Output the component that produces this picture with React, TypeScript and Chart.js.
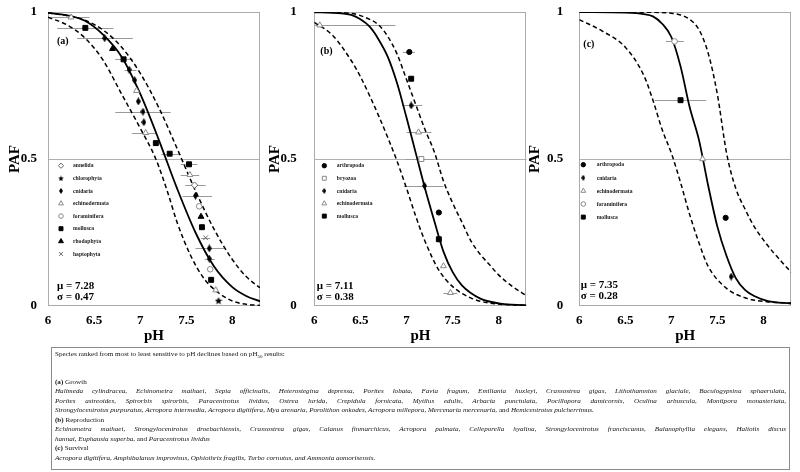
import React, { useEffect, useRef } from 'react';
import { Chart, registerables } from 'chart.js';
import { drawPoint } from 'chart.js/helpers';

Chart.register(...registerables);

const SERIF = "'Liberation Serif', 'Times New Roman', serif";

// ---------- shared axis data ----------
const xTickValues = [6, 6.5, 7, 7.5, 8];
const yTickValues = [0, 0.5, 1];
const xMin = 6;
const xMax = 8.3;

// ---------- (a) Growth ----------
const aTaxa = ['annelida', 'chlorophyta', 'cnidaria', 'echinodermata', 'foraminifera', 'mollusca', 'rhodophyta', 'haptophyta'];
const aPointTaxon = ['chlorophyta', 'echinodermata', 'mollusca', 'foraminifera', 'cnidaria', 'cnidaria', 'haptophyta', 'mollusca', 'rhodophyta', 'foraminifera', 'cnidaria', 'annelida', 'echinodermata', 'mollusca', 'mollusca', 'mollusca', 'echinodermata', 'cnidaria', 'cnidaria', 'cnidaria', 'echinodermata', 'cnidaria', 'cnidaria', 'mollusca', 'rhodophyta', 'cnidaria', 'mollusca', 'echinodermata'];
const aPointPH = [7.85, 7.82, 7.77, 7.76, 7.75, 7.75, 7.71, 7.67, 7.66, 7.64, 7.6, 7.59, 7.54, 7.53, 7.32, 7.17, 7.06, 7.04, 7.03, 6.98, 6.96, 6.94, 6.88, 6.82, 6.7, 6.615, 6.405, 6.25];
const aPointPAF = [0.018, 0.054, 0.089, 0.125, 0.161, 0.196, 0.232, 0.268, 0.304, 0.339, 0.375, 0.411, 0.446, 0.482, 0.518, 0.554, 0.589, 0.625, 0.661, 0.696, 0.732, 0.768, 0.804, 0.839, 0.875, 0.911, 0.946, 0.982];
const aBarLow = [null, null, null, null, 7.7, 7.6, 7.66, null, null, null, 7.46, 7.49, 7.44, 7.44, 7.23, null, 6.91, null, 6.73, null, null, null, 6.83, 6.73, null, 6.315, 6.1, 6.0];
const aBarHigh = [null, null, null, null, 7.81, 7.91, 7.76, null, null, null, 7.78, 7.71, 7.64, 7.62, 7.44, null, 7.18, null, 7.33, null, null, null, 6.96, 6.92, null, 6.92, 6.71, 6.45];
const aFitPH = [6.0, 6.2, 6.4, 6.6, 6.8, 7.0, 7.2, 7.4, 7.6, 7.8, 8.0, 8.15, 8.3];
const aFitPAF = [0.997, 0.989, 0.97, 0.922, 0.847, 0.722, 0.567, 0.4, 0.25, 0.135, 0.064, 0.034, 0.016];
const aLeftPH = [6.0, 6.2, 6.4, 6.6, 6.8, 7.0, 7.17, 7.3, 7.4, 7.55, 7.7, 7.85, 8.0, 8.15, 8.3];
const aLeftPAF = [0.982, 0.957, 0.912, 0.835, 0.72, 0.605, 0.5, 0.385, 0.285, 0.17, 0.09, 0.045, 0.017, 0.006, 0.002];
const aRightPH = [6.0, 6.2, 6.4, 6.6, 6.8, 7.0, 7.2, 7.4, 7.6, 7.8, 8.0, 8.15, 8.3];
const aRightPAF = [0.997, 0.988, 0.972, 0.938, 0.88, 0.792, 0.676, 0.536, 0.392, 0.262, 0.158, 0.1, 0.062];
const aMu = '7.28';
const aSigma = '0.47';

// ---------- (b) Reproduction ----------
const bTaxa = ['arthropoda', 'bryozoa', 'cnidaria', 'echinodermata', 'mollusca'];
const bPointTaxon = ['echinodermata', 'echinodermata', 'mollusca', 'arthropoda', 'cnidaria', 'bryozoa', 'echinodermata', 'cnidaria', 'mollusca', 'arthropoda', 'echinodermata'];
const bPointPH = [7.475, 7.4, 7.35, 7.35, 7.195, 7.16, 7.13, 7.05, 7.05, 7.03, 6.06];
const bPointPAF = [0.045, 0.136, 0.227, 0.318, 0.409, 0.5, 0.591, 0.682, 0.773, 0.864, 0.955];
const bBarLow = [7.4, null, null, null, 6.97, 6.99, 7.0, 6.95, null, 6.96, 6.0];
const bBarHigh = [7.55, null, null, null, 7.4, 7.29, 7.27, 7.17, null, 7.09, 6.88];
const bFitPH = [6.0, 6.2, 6.4, 6.5, 6.6, 6.7, 6.8, 6.9, 7.0, 7.1, 7.2, 7.3, 7.4, 7.5, 7.6, 7.8, 8.0, 8.3];
const bFitPAF = [0.999, 0.997, 0.99, 0.975, 0.95, 0.905, 0.845, 0.755, 0.64, 0.52, 0.4, 0.29, 0.185, 0.115, 0.07, 0.025, 0.009, 0.002];
const bLeftPH = [6.0, 6.2, 6.4, 6.5, 6.6, 6.7, 6.8, 6.9, 7.0, 7.1, 7.2, 7.35, 7.5, 7.7, 7.9, 8.3];
const bLeftPAF = [0.965, 0.92, 0.835, 0.78, 0.715, 0.645, 0.57, 0.49, 0.4, 0.305, 0.22, 0.122, 0.066, 0.027, 0.01, 0.002];
const bRightPH = [6.0, 6.4, 6.6, 6.7, 6.8, 6.9, 7.0, 7.1, 7.2, 7.3, 7.4, 7.5, 7.6, 7.7, 7.8, 7.9, 8.0, 8.15, 8.3];
const bRightPAF = [1.0, 0.995, 0.975, 0.955, 0.915, 0.855, 0.77, 0.685, 0.6, 0.525, 0.425, 0.35, 0.285, 0.22, 0.175, 0.14, 0.105, 0.066, 0.035];
const bMu = '7.11';
const bSigma = '0.38';

// ---------- (c) Survival ----------
const cTaxa = ['arthropoda', 'cnidaria', 'echinodermata', 'foraminifera', 'mollusca'];
const cPointTaxon = ['cnidaria', 'arthropoda', 'echinodermata', 'mollusca', 'foraminifera'];
const cPointPH = [7.65, 7.59, 7.34, 7.1, 7.035];
const cPointPAF = [0.1, 0.3, 0.5, 0.7, 0.9];
const cBarLow = [null, null, null, 6.82, 6.94];
const cBarHigh = [null, null, null, 7.38, 7.135];
const cFitPH = [6.0, 6.5, 6.7, 6.8, 6.9, 7.0, 7.1, 7.2, 7.3, 7.4, 7.5, 7.6, 7.7, 7.8, 7.9, 8.05, 8.3];
const cFitPAF = [1.0, 0.998, 0.993, 0.985, 0.96, 0.915, 0.815, 0.675, 0.565, 0.41, 0.27, 0.17, 0.095, 0.055, 0.034, 0.017, 0.008];
const cLeftPH = [6.0, 6.25, 6.5, 6.7, 6.8, 6.9, 7.0, 7.1, 7.2, 7.3, 7.4, 7.6, 7.8, 8.05, 8.3];
const cLeftPAF = [0.974, 0.935, 0.88, 0.785, 0.7, 0.6, 0.52, 0.42, 0.31, 0.215, 0.135, 0.06, 0.028, 0.014, 0.01];
const cRightPH = [6.0, 6.8, 7.0, 7.1, 7.2, 7.3, 7.4, 7.5, 7.6, 7.7, 7.8, 7.9, 8.0, 8.1, 8.2, 8.3];
const cRightPAF = [1.0, 0.999, 0.996, 0.99, 0.975, 0.94, 0.86, 0.72, 0.52, 0.4, 0.33, 0.27, 0.225, 0.185, 0.15, 0.115];
const cMu = '7.35';
const cSigma = '0.28';

// ---------- marker styles ----------
type MarkerStyle = { shape: string; fill: string; stroke: string; r: number; lr: number; bw: number };
const markerStyles: Record<string, MarkerStyle> = {
  annelida: { shape: 'rectRot', fill: '#ffffff', stroke: '#666666', r: 3.2, lr: 2.6, bw: 1 },
  chlorophyta: { shape: 'starImg', fill: '#000000', stroke: '#000000', r: 3.5, lr: 3, bw: 1 },
  cnidaria: { shape: 'diamondImg', fill: '#000000', stroke: '#000000', r: 3.2, lr: 2.6, bw: 1 },
  echinodermata: { shape: 'triangle', fill: '#ffffff', stroke: '#8a8a8a', r: 3.4, lr: 2.8, bw: 1 },
  foraminifera: { shape: 'circle', fill: '#ffffff', stroke: '#8a8a8a', r: 2.8, lr: 2.3, bw: 1 },
  mollusca: { shape: 'rect', fill: '#000000', stroke: '#000000', r: 3.5, lr: 2.8, bw: 1 },
  rhodophyta: { shape: 'triangle', fill: '#000000', stroke: '#000000', r: 3.4, lr: 2.8, bw: 1 },
  haptophyta: { shape: 'crossRot', fill: '#777777', stroke: '#666666', r: 3.3, lr: 2.8, bw: 1 },
  arthropoda: { shape: 'circle', fill: '#000000', stroke: '#000000', r: 2.6, lr: 2.2, bw: 1 },
  bryozoa: { shape: 'rect', fill: '#ffffff', stroke: '#8a8a8a', r: 3.5, lr: 2.8, bw: 1 },
};

function makeDiamond(w: number, h: number) {
  const c = document.createElement('canvas');
  c.width = w;
  c.height = h;
  const g = c.getContext('2d')!;
  g.fillStyle = '#000';
  g.beginPath();
  g.moveTo(w / 2, 0);
  g.lineTo(w, h / 2);
  g.lineTo(w / 2, h);
  g.lineTo(0, h / 2);
  g.closePath();
  g.fill();
  return c;
}

function makeStar(s: number) {
  const c = document.createElement('canvas');
  c.width = s;
  c.height = s;
  const g = c.getContext('2d')!;
  g.fillStyle = '#000';
  g.beginPath();
  const cx = s / 2, cy = s / 2 + 0.3, R = s / 2, r = R * 0.45;
  for (let i = 0; i < 10; i++) {
    const ang = -Math.PI / 2 + (i * Math.PI) / 5;
    const rad = i % 2 === 0 ? R : r;
    const px = cx + rad * Math.cos(ang);
    const py = cy + rad * Math.sin(ang);
    if (i === 0) g.moveTo(px, py);
    else g.lineTo(px, py);
  }
  g.closePath();
  g.fill();
  return c;
}

function resolveShape(st: MarkerStyle, legend: boolean): any {
  if (st.shape === 'diamondImg') return legend ? makeDiamond(4, 6) : makeDiamond(5, 8);
  if (st.shape === 'starImg') return legend ? makeStar(6) : makeStar(8);
  return st.shape;
}

type PanelDef = {
  label: string;
  mu: string;
  sigma: string;
  taxa: string[];
  ptTaxon: string[];
  ptPH: number[];
  ptPAF: number[];
  barLo: (number | null)[];
  barHi: (number | null)[];
  fitPH: number[];
  fitPAF: number[];
  leftPH: number[];
  leftPAF: number[];
  rightPH: number[];
  rightPAF: number[];
  lay: {
    left: number; width: number; yAxisW: number; padRight: number; yTickPad: number; yTitlePad: number;
    legMarkDX: number; legTextDX: number; legY0: number; legStep: number;
    statDX: number; muY: number; sigY: number; labDX: number; labY: number;
  };
};

const panels: PanelDef[] = [
  {
    label: '(a)', mu: aMu, sigma: aSigma, taxa: aTaxa, ptTaxon: aPointTaxon, ptPH: aPointPH, ptPAF: aPointPAF,
    barLo: aBarLow, barHi: aBarHigh, fitPH: aFitPH, fitPAF: aFitPAF, leftPH: aLeftPH, leftPAF: aLeftPAF,
    rightPH: aRightPH, rightPAF: aRightPAF,
    lay: { left: 0, width: 268, yAxisW: 48, padRight: 8, yTickPad: 11, yTitlePad: 6, legMarkDX: 13, legTextDX: 25, legY0: 165.7, legStep: 12.6, statDX: 9, muY: 286, sigY: 297, labDX: 9, labY: 41 },
  },
  {
    label: '(b)', mu: bMu, sigma: bSigma, taxa: bTaxa, ptTaxon: bPointTaxon, ptPH: bPointPH, ptPAF: bPointPAF,
    barLo: bBarLow, barHi: bBarHigh, fitPH: bFitPH, fitPAF: bFitPAF, leftPH: bLeftPH, leftPAF: bLeftPAF,
    rightPH: bRightPH, rightPAF: bRightPAF,
    lay: { left: 262, width: 270, yAxisW: 52.3, padRight: 5.5, yTickPad: 17.5, yTitlePad: 4, legMarkDX: 10, legTextDX: 22.5, legY0: 165.7, legStep: 12.6, statDX: 2.5, muY: 286, sigY: 297, labDX: 6, labY: 51 },
  },
  {
    label: '(c)', mu: cMu, sigma: cSigma, taxa: cTaxa, ptTaxon: cPointTaxon, ptPH: cPointPH, ptPAF: cPointPAF,
    barLo: cBarLow, barHi: cBarHigh, fitPH: cFitPH, fitPAF: cFitPAF, leftPH: cLeftPH, leftPAF: cLeftPAF,
    rightPH: cRightPH, rightPAF: cRightPAF,
    lay: { left: 522, width: 278, yAxisW: 57.3, padRight: 9, yTickPad: 16, yTitlePad: 4, legMarkDX: 4, legTextDX: 17.4, legY0: 164.7, legStep: 13.1, statDX: 1.5, muY: 285, sigY: 296.5, labDX: 4, labY: 44 },
  },
];

const CANVAS_H = 345;

function buildConfig(def: PanelDef): any {
  const L = def.lay;
  const markerSets = def.taxa.map((t) => {
    const st = markerStyles[t];
    const data: { x: number; y: number }[] = [];
    def.ptTaxon.forEach((tx, i) => {
      if (tx === t) data.push({ x: def.ptPH[i], y: def.ptPAF[i] });
    });
    return {
      type: 'scatter',
      label: t,
      data,
      pointStyle: resolveShape(st, false),
      pointRadius: st.r,
      pointHoverRadius: st.r,
      pointBackgroundColor: st.fill,
      pointBorderColor: st.stroke,
      pointBorderWidth: st.bw,
      showLine: false,
      order: 0,
    };
  });
  const curve = (xs: number[], ys: number[], dash: number[], w: number) => ({
    type: 'line',
    label: '',
    data: xs.map((x, i) => ({ x, y: ys[i] })),
    borderColor: '#000000',
    borderWidth: w,
    borderDash: dash,
    pointRadius: 0,
    fill: false,
    cubicInterpolationMode: 'monotone',
    order: 1,
  });

  const frame = {
    id: 'frameAndBars',
    beforeDatasetsDraw(chart: any) {
      const { ctx, chartArea: a, scales } = chart;
      ctx.save();
      ctx.strokeStyle = '#ababab';
      ctx.lineWidth = 1;
      ctx.strokeRect(Math.round(a.left) + 0.5, Math.round(a.top) + 0.5, Math.round(a.right - a.left) - 1, Math.round(a.bottom - a.top) - 1);
      ctx.beginPath();
      ctx.rect(a.left, a.top, a.right - a.left, a.bottom - a.top);
      ctx.clip();
      ctx.strokeStyle = '#9a9a9a';
      def.ptPAF.forEach((p, i) => {
        const lo = def.barLo[i];
        const hi = def.barHi[i];
        if (lo == null || hi == null) return;
        const py = Math.round(scales.y.getPixelForValue(p)) + 0.5;
        ctx.beginPath();
        ctx.moveTo(scales.x.getPixelForValue(lo), py);
        ctx.lineTo(scales.x.getPixelForValue(hi), py);
        ctx.stroke();
      });
      ctx.restore();
    },
  };

  const overlay = {
    id: 'insideTexts',
    afterDatasetsDraw(chart: any) {
      const { ctx, chartArea: a } = chart;
      ctx.save();
      ctx.textBaseline = 'middle';
      ctx.textAlign = 'left';
      def.taxa.forEach((t, i) => {
        const st = markerStyles[t];
        const y = L.legY0 + i * L.legStep;
        ctx.fillStyle = st.fill;
        ctx.strokeStyle = st.stroke;
        ctx.lineWidth = st.bw;
        drawPoint(ctx, { pointStyle: resolveShape(st, true), radius: st.lr, rotation: 0, borderWidth: st.bw } as any, a.left + L.legMarkDX, y);
        ctx.fillStyle = '#1a1a1a';
        ctx.font = `bold 5.6px ${SERIF}`;
        ctx.fillText(t, a.left + L.legTextDX, y + 0.3);
      });
      ctx.fillStyle = '#000';
      ctx.font = `bold 10px ${SERIF}`;
      ctx.fillText(def.label, a.left + L.labDX, L.labY);
      ctx.font = `bold 11px ${SERIF}`;
      ctx.fillText(`\u03bc = ${def.mu}`, a.left + L.statDX, L.muY);
      ctx.fillText(`\u03c3 = ${def.sigma}`, a.left + L.statDX, L.sigY);
      ctx.restore();
    },
  };

  return {
    type: 'scatter',
    data: {
      datasets: [
        ...markerSets,
        curve(def.fitPH, def.fitPAF, [], 1.8),
        curve(def.leftPH, def.leftPAF, [4.5, 3], 1.5),
        curve(def.rightPH, def.rightPAF, [4.5, 3], 1.5),
      ],
    },
    options: {
      animation: false,
      responsive: false,
      events: [],
      layout: { padding: { left: 0, right: L.padRight, top: 12, bottom: 0 } },
      plugins: { legend: { display: false }, tooltip: { enabled: false } },
      scales: {
        x: {
          type: 'linear',
          min: xMin,
          max: xMax,
          afterBuildTicks: (s: any) => {
            s.ticks = xTickValues.map((v) => ({ value: v }));
          },
          afterFit: (s: any) => {
            s.height = 39;
            s.paddingLeft = 0;
            s.paddingRight = 0;
          },
          grid: { display: false, drawTicks: false },
          border: { display: false },
          ticks: {
            autoSkip: false,
            maxRotation: 0,
            padding: 7,
            color: '#000',
            font: { family: SERIF, size: 13, weight: 'bold' },
            callback: (v: any) => String(v),
          },
          title: { display: true, text: 'pH', color: '#000', padding: 0, font: { family: SERIF, size: 15, weight: 'bold' } },
        },
        y: {
          type: 'linear',
          min: 0,
          max: 1,
          afterBuildTicks: (s: any) => {
            s.ticks = yTickValues.map((v) => ({ value: v }));
          },
          afterFit: (s: any) => {
            s.width = L.yAxisW;
            s.paddingTop = 0;
            s.paddingBottom = 0;
          },
          grid: {
            drawTicks: false,
            lineWidth: 1,
            color: (c: any) => (c.tick && c.tick.value === 0.5 ? '#b0b0b0' : 'rgba(0,0,0,0)'),
          },
          border: { display: false },
          ticks: {
            padding: L.yTickPad,
            color: '#000',
            font: { family: SERIF, size: 13, weight: 'bold' },
            callback: (v: any) => String(v),
          },
          title: { display: true, text: 'PAF', color: '#000', padding: { top: L.yTitlePad, bottom: 0 }, font: { family: SERIF, size: 15, weight: 'bold' } },
        },
      },
    },
    plugins: [frame, overlay],
  };
}

function SsdPanel({ def }: { def: PanelDef }) {
  const ref = useRef<HTMLCanvasElement | null>(null);
  useEffect(() => {
    if (!ref.current) return;
    const chart = new Chart(ref.current, buildConfig(def));
    return () => chart.destroy();
  }, [def]);
  return (
    <canvas
      ref={ref}
      width={def.lay.width}
      height={CANVAS_H}
      style={{ position: 'absolute', left: def.lay.left, top: 0, width: def.lay.width, height: CANVAS_H }}
    />
  );
}

const just: React.CSSProperties = { textAlign: 'justify', textAlignLast: 'justify' as any };

export default function App() {
  return (
    <div style={{ position: 'absolute', left: 0, top: 0, width: 800, height: 472, background: '#fff', overflow: 'hidden' }}>
      {panels.map((p) => (
        <SsdPanel key={p.label} def={p} />
      ))}
      <div
        style={{
          position: 'absolute',
          left: 51,
          top: 347,
          width: 739,
          height: 123,
          border: '1px solid #8a8a8a',
          boxSizing: 'border-box',
          padding: '2.3px 3px 0 3px',
          fontFamily: SERIF,
          fontSize: '7.1px',
          lineHeight: '9.5px',
          color: '#111',
          willChange: 'transform',
        }}
      >
        <div style={{ marginBottom: '18.2px', whiteSpace: 'nowrap' }}>
          Species ranked from most to least sensitive to pH declines based on pH
          <span style={{ fontSize: '5px', verticalAlign: '-1.5px', lineHeight: 0 }}>50</span> results:
        </div>
        <div>
          <b>(a)</b> Growth
        </div>
        <div style={just}>
          <i>
            Halimeda cylindracea, Echinometra mathaei, Sepia officinalis, Heterostegina depressa, Porites lobata, Favia fragum,
            Emiliania huxleyi, Crassostrea gigas, Lithothamnion glaciale, Baculogypsina sphaerulata,
          </i>
        </div>
        <div style={just}>
          <i>
            Porites astreoides, Spirorbis spirorbis, Paracentrotus lividus, Ostrea lurida, Crepidula fornicata, Mytilus edulis,
            Arbacia punctulata, Pocillopora damicornis, Oculina arbuscula, Montipora monasteriata,
          </i>
        </div>
        <div style={{ whiteSpace: 'nowrap' }}>
          <i>
            Strongylocentrotus purpuratus, Acropora intermedia, Acropora digitifera, Mya arenaria, Porolithon onkodes, Acropora
            millepora, Mercenaria mercenaria,
          </i>{' '}
          and <i>Hemicentrotus pulcherrimus.</i>
        </div>
        <div>
          <b>(b)</b> Reproduction
        </div>
        <div style={just}>
          <i>
            Echinometra mathaei, Strongylocentrotus droebachiensis, Crassostrea gigas, Calanus finmarchicus, Acropora palmata,
            Celleporella hyalina, Strongylocentrotus franciscanus, Balanophyllia elegans, Haliotis discus
          </i>
        </div>
        <div style={{ whiteSpace: 'nowrap' }}>
          <i>hannai, Euphausia superba,</i> and <i>Paracentrotus lividus</i>
        </div>
        <div>
          <b>(c)</b> Survival
        </div>
        <div style={{ whiteSpace: 'nowrap' }}>
          <i>Acropora digitifera, Amphibalanus improvisus, Ophiothrix fragilis, Turbo cornutus, and Ammonia aomorisensis.</i>
        </div>
      </div>
    </div>
  );
}
